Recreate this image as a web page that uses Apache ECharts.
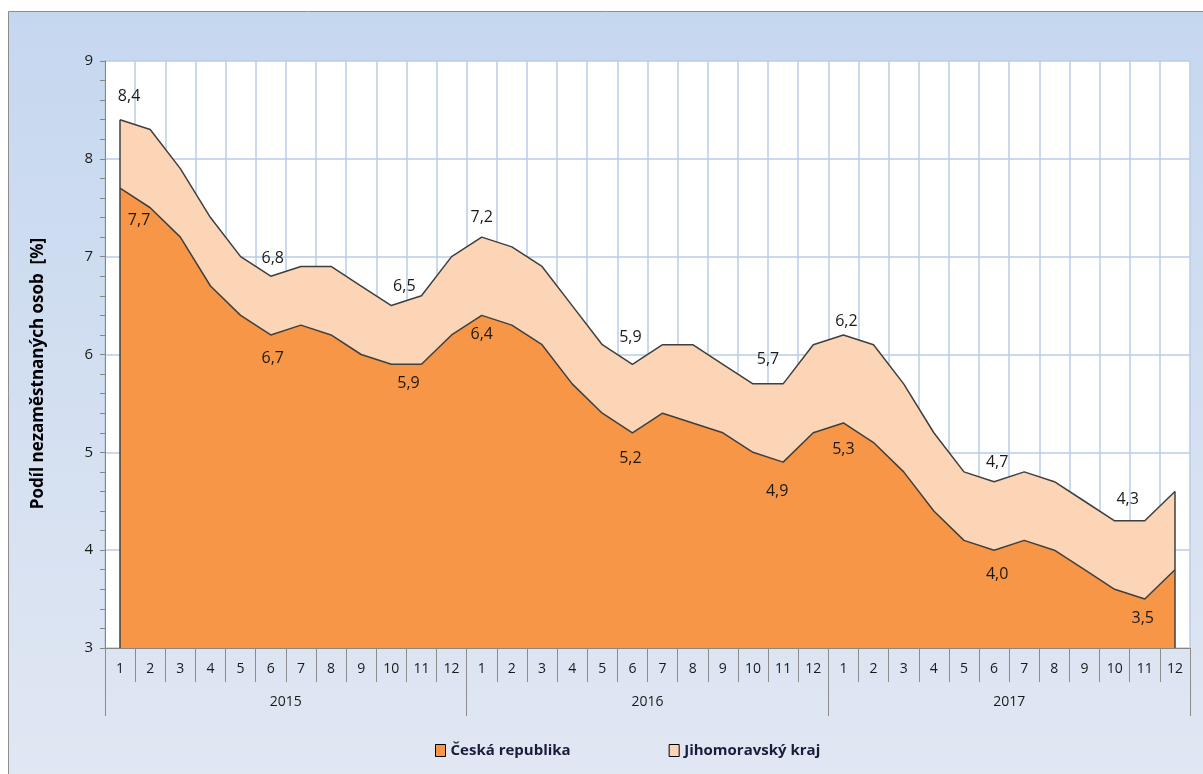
<!DOCTYPE html>
<html>
<head>
<meta charset="utf-8">
<title>Podíl nezaměstnaných osob</title>
<script src="https://cdn.jsdelivr.net/npm/echarts@6/dist/echarts.min.js"></script>
<style>
html, body { margin: 0; padding: 0; background: #fff; }
#chart { width: 1203px; height: 774px; }
</style>
</head>
<body>
<div id="chart"></div>
<script>
var years = ['2015', '2016', '2017'];
var months = ['1', '2', '3', '4', '5', '6', '7', '8', '9', '10', '11', '12'];

// Česká republika
var cr = [7.7, 7.5, 7.2, 6.7, 6.4, 6.2, 6.3, 6.2, 6.0, 5.9, 5.9, 6.2,
          6.4, 6.3, 6.1, 5.7, 5.4, 5.2, 5.4, 5.3, 5.2, 5.0, 4.9, 5.2,
          5.3, 5.1, 4.8, 4.4, 4.1, 4.0, 4.1, 4.0, 3.8, 3.6, 3.5, 3.8];
// Jihomoravský kraj
var jmk = [8.4, 8.3, 7.9, 7.4, 7.0, 6.8, 6.9, 6.9, 6.7, 6.5, 6.6, 7.0,
           7.2, 7.1, 6.9, 6.5, 6.1, 5.9, 6.1, 6.1, 5.9, 5.7, 5.7, 6.1,
           6.2, 6.1, 5.7, 5.2, 4.8, 4.7, 4.8, 4.7, 4.5, 4.3, 4.3, 4.6];

// popisky hodnot (jak jsou v obrázku)
var jmkLabelIdx = [0, 5, 9, 12, 17, 21, 24, 29, 33];
var jmkLabelText = ['8,4', '6,8', '6,5', '7,2', '5,9', '5,7', '6,2', '4,7', '4,3'];
var crLabelIdx = [0, 5, 10, 12, 17, 22, 24, 29, 34];
var crLabelText = ['7,7', '6,7', '5,9', '6,4', '5,2', '4,9', '5,3', '4,0', '3,5'];

var yMin = 3, yMax = 9;

// posuny popisků [dx, dy]
var jmkLabelShift = [[9, -10], [2, -5], [13, -6], [0, -7], [-2, -14], [15, -11], [3, 0], [3, -6], [13, -8]];
var crLabelShift = [[19, 19], [2, 11], [-13, 6], [0, 6], [-2, 13], [-6, 16], [0, 13], [3, 11], [-2, 6]];

var font = '"Open Sans", sans-serif';

var categories = [];
years.forEach(function (y) {
    months.forEach(function (m) { categories.push(m); });
});

function withLabels(values, idx, texts, shifts, pos) {
    return values.map(function (v, i) {
        var k = idx.indexOf(i);
        if (k < 0) return v;
        return {
            value: v,
            label: {
                show: true,
                position: pos,
                distance: 5,
                offset: shifts[k],
                formatter: texts[k]
            }
        };
    });
}

var last = cr.length - 1;

var option = {
    animation: false,
    backgroundColor: '#ffffff',
    graphic: [{
        type: 'rect',
        z: -10,
        silent: true,
        shape: { x: 8.5, y: 11.5, width: 1200, height: 770 },
        style: {
            fill: {
                type: 'linear', x: 0, y: 0, x2: 0, y2: 1,
                colorStops: [
                    { offset: 0, color: '#c5d7ef' },
                    { offset: 1, color: '#e1e7f3' }
                ]
            },
            stroke: '#8d8d8d',
            lineWidth: 1
        }
    }],
    grid: {
        left: 105,
        right: 13,
        top: 61,
        bottom: 126,
        show: true,
        backgroundColor: '#ffffff',
        borderWidth: 0
    },
    legend: {
        data: ['Česká republika', 'Jihomoravský kraj'],
        left: 430,
        top: 738,
        icon: 'rect',
        itemWidth: 10,
        itemHeight: 12,
        itemGap: 98,
        itemStyle: { borderColor: '#000', borderWidth: 1 },
        textStyle: { fontFamily: font, fontSize: 15, fontWeight: 'bold', color: '#1b1b3a' }
    },
    xAxis: [
        {
            type: 'category',
            data: categories,
            boundaryGap: true,
            axisLine: { show: true, lineStyle: { color: '#868686', width: 1 } },
            axisTick: { show: true, interval: 0, length: 34, lineStyle: { color: '#8c8c8c' } },
            axisLabel: { interval: 0, margin: 14, fontFamily: font, fontSize: 14, color: '#1a1a1a' },
            splitLine: { show: true, interval: 0, lineStyle: { color: '#b9cde5', width: 1.5 } }
        },
        {
            type: 'category',
            data: years,
            position: 'bottom',
            offset: 34,
            boundaryGap: true,
            axisLine: { show: false },
            axisTick: { show: true, interval: 0, length: 34, lineStyle: { color: '#8c8c8c' } },
            axisLabel: { interval: 0, margin: 13, fontFamily: font, fontSize: 14, color: '#1a1a1a' },
            splitLine: { show: false }
        }
    ],
    yAxis: {
        type: 'value',
        min: yMin,
        max: yMax,
        interval: 1,
        name: 'Podíl nezaměstnaných osob  [%]',
        nameLocation: 'middle',
        nameRotate: 90,
        nameGap: 58,
        nameTextStyle: {
            fontFamily: font, fontSize: 17, fontWeight: 'bold', color: '#000',
            padding: [0, 38, 0, 0]
        },
        axisLine: { show: true, lineStyle: { color: '#868686', width: 1 } },
        axisTick: { show: true, length: 5, lineStyle: { color: '#868686' } },
        minorTick: { show: true, splitNumber: 5, length: 5, lineStyle: { color: '#868686' } },
        axisLabel: { margin: 12, fontFamily: font, fontSize: 15, color: '#1a1a1a' },
        splitLine: { show: true, lineStyle: { color: '#b9cde5', width: 1.5 } }
    },
    series: [
        {
            name: 'Jihomoravský kraj',
            type: 'line',
            z: 2,
            data: withLabels(jmk, jmkLabelIdx, jmkLabelText, jmkLabelShift, 'top'),
            symbol: 'circle',
            symbolSize: 0,
            showSymbol: true,
            color: '#fbd5b5',
            itemStyle: { color: '#fbd5b5' },
            lineStyle: { color: '#3f3f3f', width: 1.5 },
            areaStyle: { color: '#fbd5b5', opacity: 1, origin: 'start' },
            label: { fontFamily: font, fontSize: 16, color: '#1a1a1a' }
        },
        {
            name: 'Česká republika',
            type: 'line',
            z: 3,
            data: withLabels(cr, crLabelIdx, crLabelText, crLabelShift, 'bottom'),
            symbol: 'circle',
            symbolSize: 0,
            showSymbol: true,
            color: '#f79646',
            itemStyle: { color: '#f79646' },
            lineStyle: { color: '#3f3f3f', width: 1.5 },
            areaStyle: { color: '#f79646', opacity: 1, origin: 'start' },
            label: { fontFamily: font, fontSize: 16, color: '#1a1a1a' },
            markLine: {
                silent: true,
                symbol: ['none', 'none'],
                label: { show: false },
                lineStyle: { color: '#3f3f3f', width: 1.5, type: 'solid' },
                data: [
                    [{ coord: [0, yMin] }, { coord: [0, jmk[0]] }],
                    [{ coord: [last, yMin] }, { coord: [last, jmk[last]] }]
                ]
            }
        }
    ]
};

var myChart = echarts.init(document.getElementById('chart'));
myChart.setOption(option);
</script>
</body>
</html>
